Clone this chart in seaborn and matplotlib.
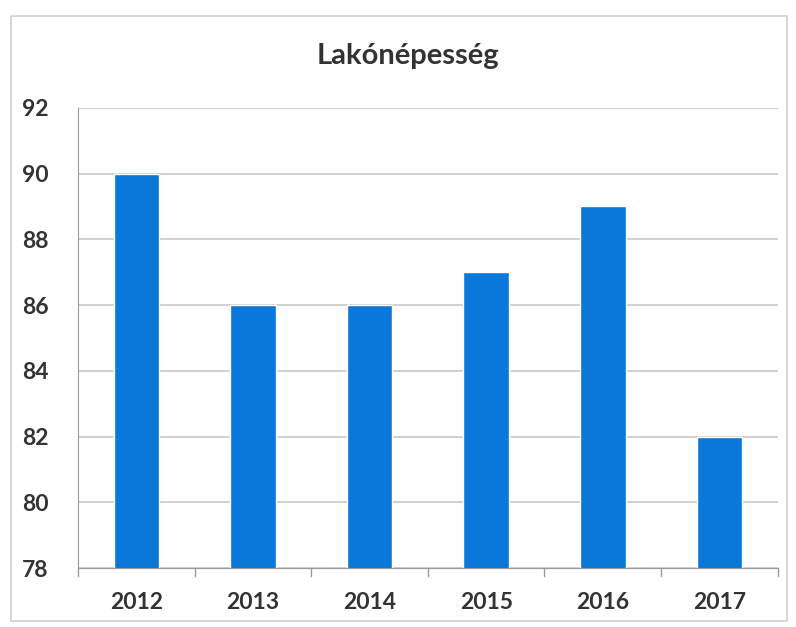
import pandas as pd
import matplotlib.pyplot as plt
import seaborn as sns
from matplotlib.patches import Rectangle

years = ['2012', '2013', '2014', '2015', '2016', '2017']
population = [90, 86, 86, 87, 89, 82]
y_ticks = [78, 80, 82, 84, 86, 88, 90, 92]

df = pd.DataFrame({'year': years, 'value': population})

sns.set_style('white')
plt.rcParams['font.family'] = ['Lato', 'DejaVu Sans']

fig = plt.figure(figsize=(7.96, 6.27), dpi=100)
ax = fig.add_axes([0.098, 0.094, 0.879, 0.734])

sns.barplot(data=df, x='year', y='value', color='#0a78d8', saturation=1,
            width=0.39, ax=ax)

ax.set_ylim(78, 92)
ax.set_yticks(y_ticks)
ax.set_xlim(-0.5, 5.5)
ax.yaxis.grid(True, color='#c8c8c8', linewidth=1.2)
ax.set_axisbelow(True)
ax.set_xlabel('')
ax.set_ylabel('')

for s in ['top', 'right']:
    ax.spines[s].set_visible(False)
ax.spines['left'].set_color('#9a9a9a')
ax.spines['bottom'].set_color('#9a9a9a')

ax.tick_params(axis='y', length=7, color='#9a9a9a', labelsize=16.5, labelcolor='#333333', pad=14)
ax.tick_params(axis='x', length=0, labelsize=16.5, labelcolor='#333333', pad=17)
for lbl in ax.get_xticklabels() + ax.get_yticklabels():
    lbl.set_fontweight('bold')

# category boundary ticks on the x axis
for b in [i - 0.5 for i in range(len(years) + 1)]:
    ax.plot([b, b], [78, 77.75], color='#9a9a9a', lw=1, clip_on=False)

fig.text(0.513, 0.91, 'Lakónépesség', ha='center', va='center',
         fontsize=21, fontweight='bold', color='#333333')

fig.patches.append(Rectangle((0.014, 0.01), 0.975, 0.965, transform=fig.transFigure,
                             fill=False, edgecolor='#d0d0d0', lw=1.2))

plt.savefig('out.png', dpi=100)
